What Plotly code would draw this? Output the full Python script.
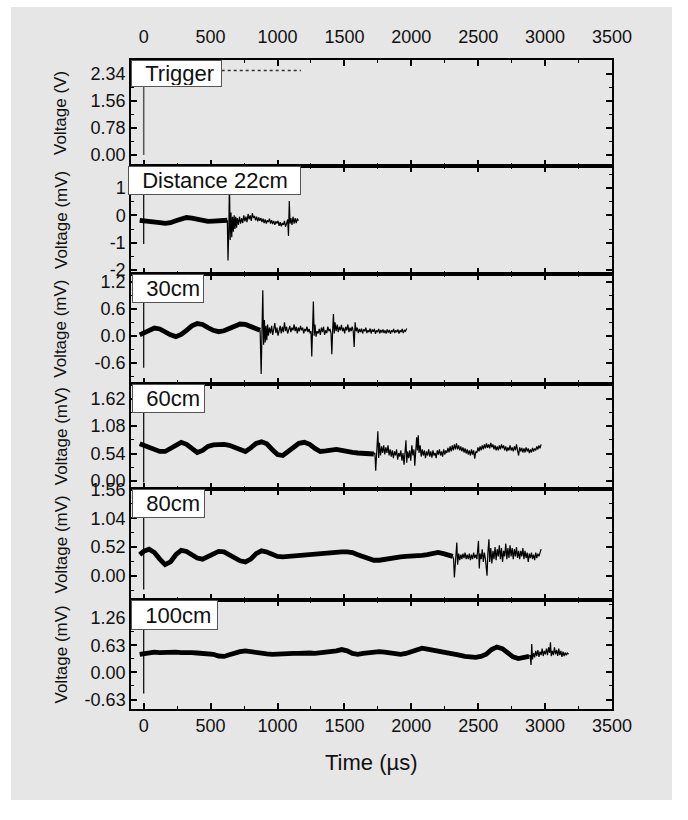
import plotly.graph_objects as go

# ---------------- data ----------------
x_ticks = [0, 500, 1000, 1500, 2000, 2500, 3000, 3500]
x_minor = [250, 750, 1250, 1750, 2250, 2750, 3250]
x_range = [-95, 3500]

panel_labels = ["Trigger", "Distance 22cm", "30cm", "60cm", "80cm", "100cm"]
y_titles = ["Voltage (V)", "Voltage (mV)", "Voltage (mV)", "Voltage (mV)", "Voltage (mV)", "Voltage (mV)"]
y_ranges = [[-0.32, 2.74], [-2.14, 1.8], [-1.06, 1.37], [-0.16, 1.92], [-0.44, 1.57], [-0.85, 1.68]]
y_tickvals = [[0, 0.78, 1.56, 2.34], [-2, -1, 0, 1], [-0.6, 0, 0.6, 1.2],
              [0, 0.54, 1.08, 1.62], [0, 0.52, 1.04, 1.56], [-0.63, 0, 0.63, 1.26]]
y_ticktext = [["0.00", "0.78", "1.56", "2.34"], ["-2", "-1", "0", "1"], ["-0.6", "0.0", "0.6", "1.2"],
              ["0.00", "0.54", "1.08", "1.62"], ["0.00", "0.52", "1.04", "1.56"], ["-0.63", "0.00", "0.63", "1.26"]]
y_minor = [[0.39, 1.17, 1.95, 2.73], [-1.5, -0.5, 0.5, 1.5], [-0.9, -0.3, 0.3, 0.9],
           [0.27, 0.81, 1.35, 1.89], [-0.26, 0.26, 0.78, 1.3], [-0.315, 0.315, 0.945, 1.575]]

# Trigger (V)
trig_edge_t = [0, 0]
trig_edge_v = [0.0, 2.44]
trig_level_t = [0, 1175]
trig_level_v = [2.44, 2.44]

# spikes at t = 0 in each distance panel
spike_t = [0, 0]
spike22 = [1.2, -1.05]
spike30 = [1.0, -0.71]
spike60 = [1.5, -0.03]
spike80 = [1.2, -0.25]
spike100 = [1.2, -0.49]

# 22 cm (mV)
t22_pre = [-30, 0, 40, 80, 120, 160, 200, 240, 280, 320,
           360, 400, 440, 480, 520, 560, 600, 625]
v22_pre = [-0.18, -0.19, -0.21, -0.24, -0.27, -0.29, -0.27, -0.2, -0.12, -0.08,
           -0.1, -0.15, -0.2, -0.22, -0.21, -0.19, -0.18, -0.18]
t22_post = [625, 630, 636, 641, 646, 652, 658, 664, 670, 676,
            682, 688, 694, 700, 708, 716, 724, 732, 740, 748,
            756, 764, 772, 780, 788, 796, 804, 812, 820, 828,
            836, 844, 852, 860, 868, 876, 884, 892, 900, 908,
            916, 924, 932, 940, 948, 956, 964, 972, 980, 988,
            996, 1004, 1012, 1020, 1028, 1036, 1044, 1052, 1060, 1068,
            1076, 1082, 1088, 1094, 1100, 1108, 1116, 1124, 1132, 1140,
            1148, 1156]
v22_post = [-0.18, -1.65, -0.5, 1.3, -0.9, 0.1, -0.8, -0.05, -0.6, 0.0,
            -0.5, -0.05, -0.45, -0.1, -0.35, -0.05, -0.3, -0.1, -0.28, 0.0,
            -0.22, -0.05, -0.25, 0.05, -0.15, 0.0, -0.2, 0.08, -0.1, -0.02,
            -0.18, -0.05, -0.22, -0.08, -0.2, -0.1, -0.25, -0.12, -0.28, -0.15,
            -0.3, -0.18, -0.25, -0.12, -0.3, -0.18, -0.32, -0.2, -0.35, -0.22,
            -0.3, -0.2, -0.38, -0.25, -0.4, -0.28, -0.35, -0.2, -0.42, -0.25,
            -0.15, -0.75, 0.52, -0.3, -0.1, -0.35, -0.05, -0.3, -0.1, -0.28,
            -0.12, -0.2]

# 30 cm (mV)
t30_pre = [-30, 0, 40, 80, 120, 160, 200, 240, 280, 320,
           360, 400, 440, 480, 520, 560, 600, 640, 680, 720,
           760, 800, 840, 870]
v30_pre = [0.02, 0.06, 0.13, 0.17, 0.15, 0.08, 0.02, -0.02, 0.03, 0.12,
           0.22, 0.27, 0.25, 0.18, 0.12, 0.09, 0.11, 0.16, 0.22, 0.26,
           0.25, 0.2, 0.14, 0.12]
t30_post = [870, 878, 884, 890, 896, 902, 908, 914, 920, 926,
            932, 940, 948, 956, 964, 972, 980, 988, 996, 1004,
            1012, 1020, 1028, 1036, 1044, 1052, 1060, 1068, 1076, 1084,
            1092, 1100, 1108, 1116, 1124, 1132, 1140, 1148, 1156, 1164,
            1172, 1180, 1188, 1196, 1204, 1212, 1220, 1228, 1236, 1244,
            1250, 1256, 1262, 1268, 1274, 1280, 1288, 1296, 1304, 1312,
            1320, 1328, 1336, 1344, 1352, 1360, 1368, 1376, 1384, 1392,
            1400, 1406, 1412, 1418, 1424, 1430, 1438, 1446, 1454, 1462,
            1470, 1478, 1486, 1494, 1502, 1510, 1518, 1526, 1534, 1542,
            1550, 1558, 1566, 1573, 1580, 1588, 1596, 1604, 1612, 1620,
            1628, 1636, 1644, 1652, 1660, 1668, 1676, 1684, 1692, 1700,
            1708, 1716, 1724, 1732, 1740, 1748, 1756, 1764, 1772, 1780,
            1788, 1796, 1804, 1812, 1820, 1828, 1836, 1844, 1852, 1860,
            1868, 1876, 1884, 1892, 1900, 1908, 1916, 1924, 1932, 1940,
            1948, 1956, 1966]
v30_post = [0.12, -0.85, 0.1, 1.01, -0.2, 0.35, -0.15, 0.22, -0.1, 0.25,
            0.0, 0.18, 0.05, 0.22, 0.02, 0.15, 0.28, 0.06, 0.18, 0.0,
            0.12, 0.22, 0.05, 0.2, 0.08, 0.3, 0.1, 0.2, 0.05, 0.15,
            0.22, 0.08, 0.18, 0.12, 0.25, 0.1, 0.2, 0.05, 0.18, 0.1,
            0.22, 0.12, 0.18, 0.05, 0.15, 0.1, 0.2, 0.08, 0.15, 0.05,
            0.1, -0.46, 0.2, 0.76, 0.0, 0.25, -0.02, 0.1, 0.05, 0.15,
            0.02, 0.18, 0.08, 0.2, 0.02, 0.12, 0.06, 0.2, 0.1, 0.15,
            0.05, -0.41, 0.1, 0.48, 0.05, 0.3, 0.1, 0.25, 0.08, 0.2,
            0.12, 0.24, 0.1, 0.18, 0.05, 0.2, 0.12, 0.25, 0.08, 0.18,
            0.1, 0.2, 0.1, -0.25, 0.3, 0.1, 0.18, 0.06, 0.15, 0.08,
            0.16, 0.05, 0.14, 0.1, 0.18, 0.06, 0.12, 0.08, 0.16, 0.05,
            0.14, 0.09, 0.15, 0.04, 0.12, 0.08, 0.15, 0.05, 0.13, 0.07,
            0.14, 0.06, 0.12, 0.05, 0.14, 0.07, 0.13, 0.04, 0.12, 0.08,
            0.15, 0.06, 0.12, 0.08, 0.14, 0.05, 0.12, 0.08, 0.15, 0.06,
            0.12, 0.1, 0.16]

# 60 cm (mV)
t60_pre = [-30, 0, 40, 80, 120, 160, 200, 240, 280, 320,
           360, 400, 440, 480, 520, 560, 600, 640, 680, 720,
           760, 800, 840, 880, 920, 960, 1000, 1040, 1080, 1120,
           1160, 1200, 1240, 1280, 1320, 1360, 1400, 1440, 1480, 1520,
           1560, 1600, 1640, 1680, 1720]
v60_pre = [0.73, 0.7, 0.66, 0.62, 0.58, 0.58, 0.64, 0.72, 0.76, 0.72,
           0.63, 0.56, 0.6, 0.68, 0.71, 0.72, 0.72, 0.7, 0.66, 0.6,
           0.58, 0.65, 0.74, 0.77, 0.73, 0.62, 0.52, 0.5, 0.58, 0.68,
           0.74, 0.76, 0.72, 0.64, 0.58, 0.59, 0.61, 0.62, 0.6, 0.57,
           0.56, 0.55, 0.54, 0.52, 0.53]
t60_post = [1720, 1728, 1734, 1742, 1750, 1756, 1762, 1770, 1778, 1786,
            1794, 1802, 1810, 1818, 1826, 1834, 1842, 1850, 1858, 1866,
            1874, 1882, 1890, 1898, 1906, 1914, 1922, 1930, 1938, 1946,
            1954, 1960, 1966, 1972, 1980, 1988, 1996, 2004, 2012, 2020,
            2026, 2034, 2040, 2046, 2052, 2058, 2066, 2074, 2082, 2090,
            2098, 2106, 2114, 2122, 2130, 2138, 2146, 2154, 2162, 2170,
            2178, 2186, 2194, 2202, 2210, 2218, 2226, 2234, 2242, 2250,
            2258, 2266, 2274, 2282, 2290, 2298, 2306, 2314, 2322, 2330,
            2338, 2346, 2354, 2362, 2370, 2378, 2386, 2394, 2402, 2410,
            2418, 2426, 2434, 2442, 2450, 2458, 2466, 2474, 2482, 2490,
            2498, 2506, 2514, 2522, 2530, 2538, 2546, 2554, 2562, 2570,
            2578, 2586, 2594, 2602, 2610, 2618, 2626, 2634, 2642, 2650,
            2658, 2666, 2674, 2682, 2690, 2698, 2706, 2714, 2722, 2730,
            2738, 2746, 2754, 2762, 2770, 2778, 2786, 2794, 2802, 2810,
            2818, 2826, 2834, 2842, 2850, 2858, 2866, 2874, 2882, 2890,
            2898, 2906, 2914, 2922, 2930, 2938, 2946, 2954, 2962, 2970]
v60_post = [0.53, 0.55, 0.2, 0.6, 0.98, 0.45, 0.75, 0.5, 0.68, 0.55,
            0.7, 0.52, 0.66, 0.55, 0.7, 0.5, 0.62, 0.48, 0.6, 0.45,
            0.58, 0.5, 0.62, 0.42, 0.55, 0.48, 0.6, 0.4, 0.55, 0.32,
            0.62, 0.8, 0.36, 0.58, 0.45, 0.6, 0.4, 0.7, 0.5, 0.62,
            0.3, 0.55, 0.86, 0.6, 0.9, 0.55, 0.7, 0.48, 0.62, 0.5,
            0.6, 0.45, 0.58, 0.5, 0.62, 0.48, 0.58, 0.46, 0.6, 0.5,
            0.55, 0.45, 0.6, 0.52, 0.62, 0.5, 0.58, 0.48, 0.62, 0.52,
            0.6, 0.55, 0.65, 0.56, 0.68, 0.58, 0.7, 0.6, 0.72, 0.62,
            0.74, 0.62, 0.7, 0.6, 0.68, 0.58, 0.66, 0.56, 0.64, 0.54,
            0.62, 0.52, 0.6, 0.5, 0.62, 0.52, 0.6, 0.44, 0.58, 0.55,
            0.66, 0.58, 0.68, 0.6, 0.7, 0.62, 0.72, 0.64, 0.74, 0.65,
            0.72, 0.64, 0.75, 0.66, 0.72, 0.62, 0.7, 0.6, 0.68, 0.6,
            0.7, 0.62, 0.72, 0.64, 0.7, 0.6, 0.68, 0.58, 0.66, 0.6,
            0.7, 0.6, 0.66, 0.58, 0.68, 0.6, 0.72, 0.6, 0.5, 0.66,
            0.58, 0.65, 0.56, 0.64, 0.56, 0.66, 0.58, 0.64, 0.55, 0.62,
            0.56, 0.65, 0.58, 0.64, 0.6, 0.68, 0.62, 0.7, 0.64, 0.72]

# 80 cm (mV)
t80_pre = [-30, 0, 40, 80, 120, 160, 200, 240, 280, 320,
           360, 400, 440, 480, 520, 560, 600, 640, 680, 720,
           760, 800, 840, 880, 920, 960, 1000, 1040, 1080, 1120,
           1160, 1200, 1240, 1280, 1320, 1360, 1400, 1440, 1480, 1520,
           1560, 1600, 1640, 1680, 1720, 1760, 1800, 1840, 1880, 1920,
           1960, 2000, 2040, 2080, 2120, 2160, 2200, 2240, 2280, 2310]
v80_pre = [0.38, 0.44, 0.48, 0.42, 0.3, 0.2, 0.25, 0.38, 0.46, 0.44,
           0.38, 0.32, 0.3, 0.34, 0.4, 0.44, 0.43, 0.38, 0.32, 0.27,
           0.25, 0.3, 0.4, 0.45, 0.43, 0.38, 0.35, 0.34, 0.35, 0.36,
           0.37, 0.37, 0.38, 0.38, 0.39, 0.4, 0.41, 0.42, 0.43, 0.43,
           0.42, 0.38, 0.34, 0.3, 0.28, 0.28, 0.3, 0.32, 0.33, 0.34,
           0.35, 0.35, 0.36, 0.37, 0.38, 0.4, 0.42, 0.4, 0.36, 0.35]
t80_post = [2310, 2316, 2322, 2330, 2340, 2346, 2354, 2362, 2370, 2378,
            2386, 2394, 2402, 2410, 2418, 2426, 2434, 2442, 2450, 2458,
            2466, 2474, 2482, 2490, 2496, 2502, 2508, 2514, 2522, 2530,
            2538, 2546, 2554, 2560, 2566, 2572, 2580, 2586, 2594, 2602,
            2610, 2618, 2626, 2634, 2642, 2650, 2658, 2666, 2674, 2682,
            2690, 2698, 2706, 2714, 2722, 2730, 2738, 2746, 2754, 2762,
            2770, 2778, 2786, 2794, 2802, 2810, 2818, 2826, 2834, 2842,
            2850, 2858, 2866, 2874, 2882, 2890, 2898, 2906, 2914, 2922,
            2930, 2938, 2946, 2954, 2962, 2970]
v80_post = [0.35, 0.3, -0.03, 0.35, 0.6, 0.2, 0.4, 0.28, 0.38, 0.3,
            0.4, 0.32, 0.42, 0.3, 0.38, 0.3, 0.4, 0.28, 0.38, 0.3,
            0.42, 0.32, 0.38, 0.3, 0.45, 0.63, 0.13, 0.4, 0.3, 0.48,
            0.25, 0.42, 0.3, 0.15, 0.0, 0.4, 0.66, 0.25, 0.5, 0.22,
            0.45, 0.3, 0.52, 0.28, 0.48, 0.35, 0.55, 0.3, 0.5, 0.25,
            0.45, 0.35, 0.58, 0.3, 0.5, 0.32, 0.55, 0.35, 0.5, 0.3,
            0.48, 0.35, 0.52, 0.32, 0.45, 0.3, 0.45, 0.35, 0.5, 0.3,
            0.45, 0.32, 0.42, 0.25, 0.4, 0.32, 0.42, 0.3, 0.38, 0.28,
            0.42, 0.32, 0.4, 0.35, 0.44, 0.48]

# 100 cm (mV)
t100_pre = [-30, 0, 40, 80, 120, 160, 200, 240, 280, 320,
            360, 400, 440, 480, 520, 560, 600, 640, 680, 720,
            760, 800, 840, 880, 920, 960, 1000, 1040, 1080, 1120,
            1160, 1200, 1240, 1280, 1320, 1360, 1400, 1440, 1480, 1520,
            1560, 1600, 1640, 1680, 1720, 1760, 1800, 1840, 1880, 1920,
            1960, 2000, 2040, 2080, 2120, 2160, 2200, 2240, 2280, 2320,
            2360, 2400, 2440, 2480, 2520, 2560, 2600, 2640, 2680, 2720,
            2760, 2800, 2840, 2880]
v100_pre = [0.42, 0.44, 0.46, 0.47, 0.46, 0.47, 0.46, 0.47, 0.46, 0.47,
            0.46, 0.45, 0.44, 0.44, 0.42, 0.38, 0.37, 0.41, 0.45, 0.48,
            0.5, 0.48, 0.45, 0.44, 0.43, 0.42, 0.43, 0.44, 0.45, 0.44,
            0.44, 0.45, 0.45, 0.44, 0.45, 0.46, 0.47, 0.5, 0.53, 0.5,
            0.44, 0.42, 0.44, 0.46, 0.47, 0.48, 0.47, 0.45, 0.43, 0.42,
            0.44, 0.48, 0.53, 0.56, 0.54, 0.52, 0.5, 0.48, 0.46, 0.43,
            0.4, 0.37, 0.35, 0.35, 0.37, 0.42, 0.53, 0.59, 0.55, 0.45,
            0.36, 0.32, 0.34, 0.37]
t100_post = [2880, 2888, 2895, 2900, 2906, 2914, 2922, 2930, 2938, 2946,
             2954, 2962, 2970, 2978, 2986, 2994, 3002, 3010, 3018, 3026,
             3034, 3040, 3046, 3054, 3062, 3070, 3078, 3086, 3094, 3102,
             3110, 3118, 3126, 3134, 3142, 3150, 3158, 3166, 3175]
v100_post = [0.37, 0.4, 0.17, 0.66, 0.3, 0.45, 0.35, 0.5, 0.38, 0.52,
             0.36, 0.48, 0.4, 0.55, 0.38, 0.5, 0.42, 0.55, 0.4, 0.58,
             0.45, 0.7, 0.38, 0.5, 0.4, 0.58, 0.42, 0.52, 0.38, 0.55,
             0.4, 0.5, 0.36, 0.48, 0.38, 0.46, 0.4, 0.45, 0.42]

series = [
    (spike22, t22_pre, v22_pre, t22_post, v22_post),
    (spike30, t30_pre, v30_pre, t30_post, v30_post),
    (spike60, t60_pre, v60_pre, t60_post, v60_post),
    (spike80, t80_pre, v80_pre, t80_post, v80_post),
    (spike100, t100_pre, v100_pre, t100_post, v100_post),
]
for s in series:
    assert len(s[1]) == len(s[2]) and len(s[3]) == len(s[4]), (len(s[1]), len(s[2]), len(s[3]), len(s[4]))

# ---------------- layout geometry ----------------
W, H = 688, 820
ML, MR, MT, MB = 131, 76, 60, 111
PW, PH = W - ML - MR, H - MT - MB
edges_px = [60, 166, 274, 383.5, 489, 600, 709]   # panel borders (page px)
FONT = "Arial, 'Liberation Sans', sans-serif"
INK = "#111111"
BG = "#e6e6e6"

def py2paper(py):
    return (H - MB - py) / PH

def px2paper(px):
    return (px - ML) / PW

fig = go.Figure()

def ax_name(k, letter):
    return letter if k == 1 else f"{letter}{k}"

# trigger panel traces
fig.add_trace(go.Scatter(x=trig_edge_t, y=trig_edge_v, mode="lines",
                         line=dict(color="#555555", width=1.5), xaxis="x", yaxis="y", showlegend=False))
fig.add_trace(go.Scatter(x=trig_level_t, y=trig_level_v, mode="lines",
                         line=dict(color="#333333", width=1.5, dash="dot"), xaxis="x", yaxis="y", showlegend=False))

for i, (sp, tpre, vpre, tpost, vpost) in enumerate(series):
    k = i + 2
    xa, ya = ax_name(k, "x"), ax_name(k, "y")
    fig.add_trace(go.Scatter(x=spike_t, y=sp, mode="lines", line=dict(color="#000", width=1.2),
                             xaxis=xa, yaxis=ya, showlegend=False))
    fig.add_trace(go.Scatter(x=tpre, y=vpre, mode="lines", line=dict(color="#000", width=4.8),
                             xaxis=xa, yaxis=ya, showlegend=False))
    fig.add_trace(go.Scatter(x=tpost, y=vpost, mode="lines", line=dict(color="#000", width=1.2),
                             xaxis=xa, yaxis=ya, showlegend=False))

layout = dict(
    width=W, height=H,
    margin=dict(l=ML, r=MR, t=MT, b=MB),
    paper_bgcolor="white", plot_bgcolor=BG,
    font=dict(family=FONT, color=INK),
    showlegend=False,
)

annotations = []
box_w = [91, 173, 72, 73, 73, 87]
box_h = [27, 29, 29, 29, 29, 30]
box_dx = [0, -3, 1, 1, 1, 0]

for i in range(6):
    k = i + 1
    top_px, bot_px = edges_px[i], edges_px[i + 1]
    dom = [py2paper(bot_px), py2paper(top_px)]
    xa_key = "xaxis" if k == 1 else f"xaxis{k}"
    ya_key = "yaxis" if k == 1 else f"yaxis{k}"
    xaxis = dict(
        domain=[0, 1], anchor=ax_name(k, "y"), range=x_range,
        showline=True, linecolor="black", linewidth=1.5, mirror="allticks",
        ticks="inside", ticklen=6, tickwidth=1.5, tickcolor="black",
        tickmode="array", tickvals=x_ticks, ticktext=[str(v) for v in x_ticks],
        minor=dict(ticks="inside", ticklen=3.5, tickwidth=1.2, tickcolor="black",
                   tickmode="array", tickvals=x_minor, showgrid=False),
        showgrid=False, zeroline=False,
        tickfont=dict(size=18, color=INK, family=FONT),
        showticklabels=(k == 1 or k == 6),
    )
    if k == 1:
        xaxis["side"] = "top"
        xaxis["ticklabelstandoff"] = 8
    else:
        xaxis["matches"] = "x"
    yaxis = dict(
        domain=dom, anchor=ax_name(k, "x"), range=y_ranges[i],
        showline=True, linecolor="black", linewidth=1.5, mirror="allticks",
        ticks="inside", ticklen=6, tickwidth=1.5, tickcolor="black",
        tickmode="array", tickvals=y_tickvals[i], ticktext=y_ticktext[i],
        minor=dict(ticks="inside", ticklen=3.5, tickwidth=1.2, tickcolor="black",
                   tickmode="array", tickvals=y_minor[i], showgrid=False),
        showgrid=False, zeroline=False,
        tickfont=dict(size=18, color=INK, family=FONT),
    )
    layout[xa_key] = xaxis
    layout[ya_key] = yaxis

    # y title
    annotations.append(dict(
        text=y_titles[i], textangle=-90, xref="paper", yref="paper",
        x=px2paper(61), y=(dom[0] + dom[1]) / 2, xanchor="center", yanchor="middle",
        showarrow=False, font=dict(size=17, color=INK, family=FONT)))
    # panel label box
    annotations.append(dict(
        text="&nbsp;&nbsp;" + panel_labels[i], xref="paper", yref="paper",
        x=0, y=dom[1], xanchor="left", yanchor="top", xshift=box_dx[i],
        width=box_w[i] - 4, height=box_h[i] - 4, align="left", valign="middle",
        showarrow=False, bgcolor="white", bordercolor="#555555", borderwidth=1, borderpad=1,
        font=dict(size=22, color=INK, family=FONT)))

annotations.append(dict(
    text="Time (µs)", xref="paper", yref="paper", x=0.5, y=py2paper(762),
    xanchor="center", yanchor="middle", showarrow=False,
    font=dict(size=22, color=INK, family=FONT)))

layout["annotations"] = annotations
layout["shapes"] = [dict(type="rect", xref="paper", yref="paper", layer="below",
                         x0=px2paper(11), x1=px2paper(672), y0=py2paper(800), y1=py2paper(7),
                         fillcolor=BG, line=dict(width=0))]
fig.update_layout(**layout)
fig.write_html("out.html")
